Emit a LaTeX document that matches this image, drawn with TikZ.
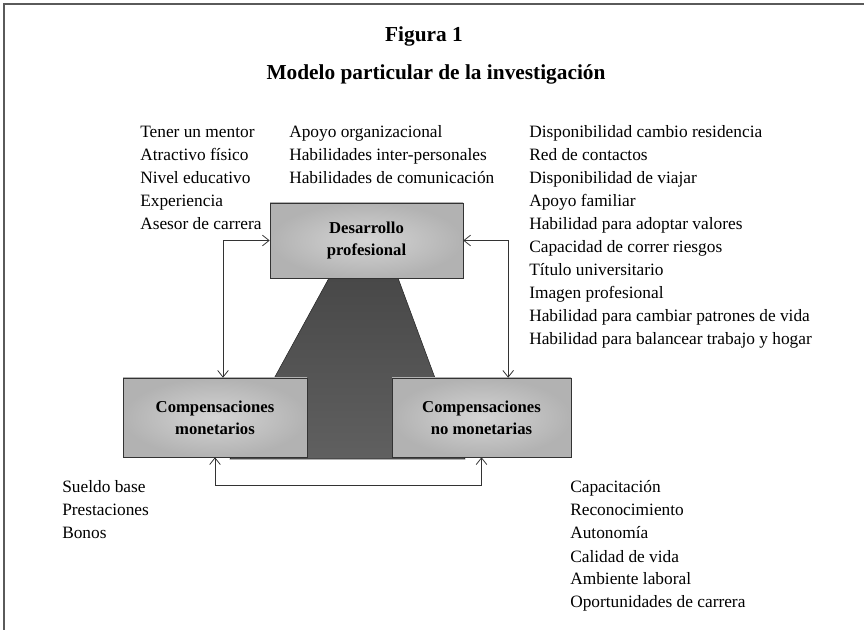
\documentclass[tikz,border=0pt]{standalone}
\usepackage{fontspec}
\setmainfont{Liberation Serif}
\usepackage{tikz}
\usetikzlibrary{arrows.meta, positioning, calc}
\definecolor{framegray}{RGB}{90, 90, 90}
\definecolor{boxgray}{RGB}{178, 178, 178}
\definecolor{boxlight}{RGB}{212, 212, 212}
\definecolor{basedark}{RGB}{72, 72, 72}
\definecolor{baselight}{RGB}{96, 96, 96}

\begin{document}
\begin{tikzpicture}[x=0.75pt, y=-0.75pt,
  item/.style={anchor=base west, inner sep=0pt, font=\fontsize{13}{15}\selectfont},
  heading/.style={anchor=base, inner sep=0pt, font=\bfseries\fontsize{16}{19}\selectfont},
  box/.style={draw=black!80, inner color=boxlight, outer color=boxgray, align=center, font=\bfseries\fontsize{12.5}{16.5}\selectfont},
  arr/.style={{Straight Barb[length=5pt, width=8pt]}-{Straight Barb[length=5pt, width=8pt]}, black!80, semithick}]
  \useasboundingbox (0,0) rectangle (864,630);
  % frame
  \draw[framegray, line width=1.1pt] (4,630) -- (4,4) -- (864,4);
  \node[heading] (fig) at (424,42) {Figura 1};
  \node[heading] (title) at (436,80) {Modelo particular de la investigación};
  % dark base behind the three boxes
  \draw[black!85, top color=basedark, bottom color=baselight] (329,278) -- (398,278) -- (465,459) -- (230,459) -- cycle;
  \node[box, minimum width=144.75pt, minimum height=56.25pt] (dp) at (366.5,240.5) {Desarrollo\\profesional};
  \node[box, minimum width=138pt, minimum height=59.25pt] (cm) at (215,417.5) {Compensaciones\\monetarios};
  \node[box, minimum width=134.25pt, minimum height=59.25pt] (cn) at (481.5,417.5) {Compensaciones\\no monetarias};
  % connectors
  \draw[arr] (dp.west) -| ([xshift=6pt]cm.north);
  \draw[arr] (dp.east) -| ([xshift=20pt]cn.north);
  \draw[arr] (cm.south) -- ++(0,28) -| (cn.south);
  % factor lists
  \foreach \t [count=\i] in {Tener un mentor, Atractivo físico, Nivel educativo, Experiencia, Asesor de carrera}
    \node[item] (a\i) at (140,115+23*\i) {\t};
  \foreach \t [count=\i] in {Apoyo organizacional, Habilidades inter-personales, Habilidades de comunicación}
    \node[item] (b\i) at (289,115+23*\i) {\t};
  \foreach \t [count=\i] in {Disponibilidad cambio residencia, Red de contactos, Disponibilidad de viajar, Apoyo familiar, Habilidad para adoptar valores, Capacidad de correr riesgos, Título universitario, Imagen profesional, Habilidad para cambiar patrones de vida, Habilidad para balancear trabajo y hogar}
    \node[item] (c\i) at (529,115+23*\i) {\t};
  \foreach \t [count=\i] in {Sueldo base, Prestaciones, Bonos}
    \node[item] (d\i) at (62,470+23*\i) {\t};
  \foreach \t [count=\i] in {Capacitación, Reconocimiento, Autonomía, Calidad de vida, Ambiente laboral, Oportunidades de carrera}
    \node[item] (e\i) at (570,470+23*\i) {\t};
\end{tikzpicture}
\end{document}
